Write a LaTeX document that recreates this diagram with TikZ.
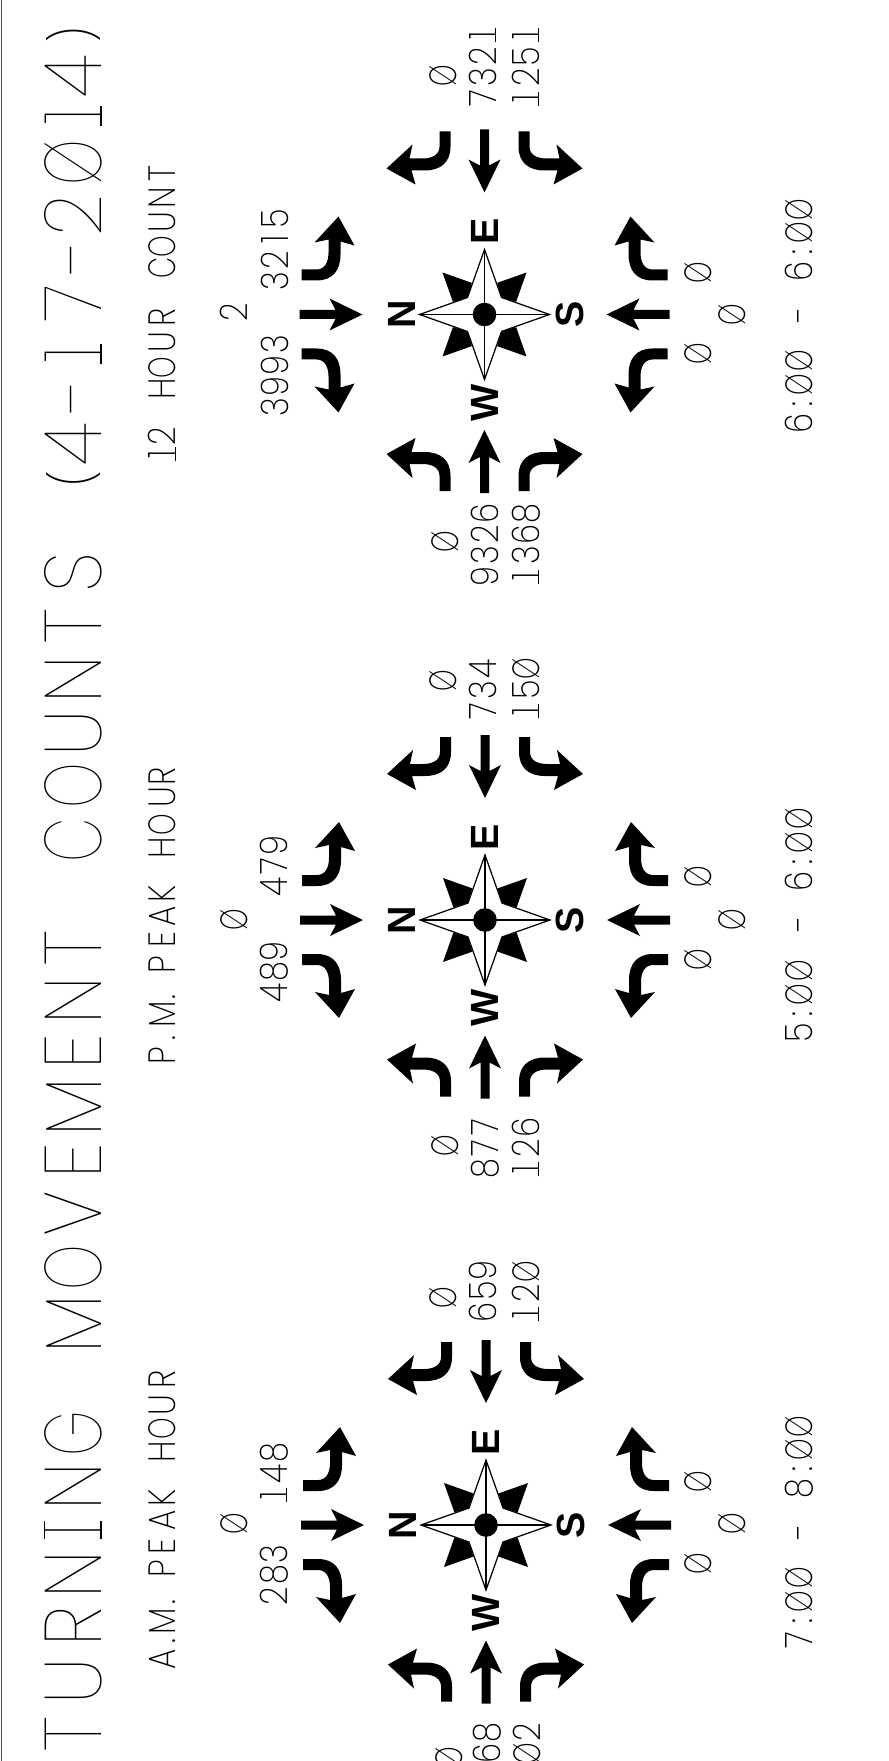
\documentclass[tikz,border=0pt]{standalone}
\usepackage{fontspec}
\usepackage{xcolor}
\newfontfamily\titlefont[FakeStretch=0.92]{Poppins Thin}
\newfontfamily\titleroundfont[FakeStretch=0.72]{Poppins Thin}
\newfontfamily\lightfont[FakeStretch=0.85]{Poppins ExtraLight}
\newfontfamily\lightroundfont[FakeStretch=0.72]{Poppins ExtraLight}
\newfontfamily\compassfont{Liberation Sans Bold}
\newlength\pxunit
\setlength\pxunit{0.01cm}
\newcommand{\spacedloop}[1]{\ifx#1\relax\else\makebox[\pitchw][c]{#1}\expandafter\spacedloop\fi}
\newcommand{\spaced}[2]{\def\pitchw{#1}\expandafter\spacedloop#2\relax}
% letters at given steps, centre to centre
\newcommand{\stepped}[1]{\foreach \ch/\adv in {#1}{\makebox[0pt][c]{\ch}\hspace{\adv\pxunit}}}
\newcommand{\tr}[1]{{\titleroundfont #1}}
\newcommand{\lr}[1]{{\lightroundfont #1}}
\newcommand{\slashz}{{\lightroundfont Ø}}
\newcommand{\titleparen}[1]{\raisebox{0.1cm}{\lightfont\fontsize{13.7}{14}\selectfont #1}}
\newcommand{\titleI}{\makebox[0pt][c]{\rule{0.18cm}{0.3pt}}\makebox[0pt][c]{\raisebox{0.56cm}{\rule{0.18cm}{0.3pt}}}\makebox[0pt][c]{I}}
\newcommand{\titleone}{\makebox[0pt][c]{\rule{0.2cm}{0.3pt}}\makebox[0pt][c]{1}}
\newcommand{\oneF}{\makebox[0pt][c]{\rule{0.14cm}{0.25pt}}\makebox[0pt][c]{1}}
\tikzset{
  titlelabel/.style={rotate=90,anchor=base west,inner sep=0pt,font=\titlefont\fontsize{22.8}{24}\selectfont},
  steplabel/.style={rotate=90,anchor=base west,inner sep=0pt,font=\lightfont\fontsize{10.8}{12}\selectfont},
  smalllabel/.style={rotate=90,anchor=base,inner sep=0pt,font=\lightfont\fontsize{10.8}{12}\selectfont},
  compasslabel/.style={rotate=90,inner sep=0pt,font=\compassfont\fontsize{11.2}{12}\selectfont},
  thinline/.style={line width=0.35pt}
}
% one approach: through arrow and the two turns
\newcommand{\turnarrow}{
  \fill (-183,-45) -- (-168,-45) .. controls (-160,-45) and (-156,-52) .. (-156,-62) -- (-156,-75)
    -- (-170,-72) -- (-146,-98) -- (-130,-69) -- (-144,-73) -- (-144,-60)
    .. controls (-144,-44) and (-152,-34) .. (-168,-34) -- (-183,-34) -- cycle;
}
\begin{document}
\begin{tikzpicture}[x=0.01cm,y=-0.01cm]
\useasboundingbox (0,0) rectangle (889,1761);
\draw[line width=0.4pt,black!70] (1.5,0) -- (1.5,1761);

\node[titlelabel] (title) at (101.5,1735) {\stepped{T/53.5,U/54,R/52.5,N/44,\titleI/44,N/52.5,\tr{G}/109.5,~/0,M/56.5,\tr{O}/54,V/53.5,E/53,M/55.5,E/51.5,N/52,T/108.5,~/0,\tr{C}/54,\tr{O}/53,U/53.5,N/53,T/53.5,S/94.5,~/0,\titleparen{(}/34,4/50.5,-/39.5,\titleone/51.5,7/47.5,-/40,2/52.5,\tr{Ø}/46.5,\titleone/40,4/42,\titleparen{)}/0}};
\node[steplabel] (hourtwelve) at (175.5,455) {\stepped{\oneF/18,2/48,~/0,H/20.5,\lr{O}/26,U/24,R/49.5,~/0,\lr{C}/21.5,\lr{O}/25,U/24,N/24.5,T/0}};
\node[steplabel] (hourpm) at (175.5,1056.5) {\stepped{P/17.5,./24,M/17.3,./32.7,~/0,P/25,E/22.5,A/23,K/46,~/0,H/23.5,\lr{O}/27.5,U/20.5,R/0}};
\node[steplabel] (houram) at (175.5,1660) {\stepped{A/18,./20,M/19,./34,~/0,P/22,E/25.5,A/23,K/46.5,~/0,H/23,\lr{O}/23,U/25.5,R/0}};
\node[steplabel] (timetwelve) at (812,424) {\stepped{6/19,:/19.5,\slashz/24,\slashz/46.5,~/0,-/42.5,~/0,6/19.5,:/19.5,\slashz/23.5,\slashz/0}};
\node[steplabel] (timepm) at (812,1033.5) {\stepped{5/19,:/19.5,\slashz/24,\slashz/46.5,~/0,-/42.5,~/0,6/19.5,:/19.5,\slashz/23.5,\slashz/0}};
\node[steplabel] (timeam) at (812,1641) {\stepped{7/19,:/19.5,\slashz/24,\slashz/46.5,~/0,-/42.5,~/0,8/19.5,:/19.5,\slashz/23.5,\slashz/0}};

% intersections
\foreach \cx/\cy/\tag in {484.5/314.5/a,485/920/b,486/1525/c}{
  \begin{scope}[shift={(\cx,\cy)}]
    \foreach \ang/\push in {0/0,90/6.5,180/0,270/0}{
      \begin{scope}[rotate=\ang,shift={(\push,0)}]
        \fill (-185,-4.5) -- (-149,-4.5) -- (-155,-16) -- (-122,0) -- (-155,16) -- (-149,4.5) -- (-185,4.5) -- cycle;
        \turnarrow
        \begin{scope}[yscale=-1]
          \turnarrow
        \end{scope}
      \end{scope}
      \fill[rotate=\ang] (-42,-42) -- (-12.6,-31.6) -- (-17,-17) -- (-31.6,-12.6) -- cycle;
    }
    \draw[thinline,fill=white] (-65,0) -- (-17,-17) -- (0,-65) -- (17,-17) -- (65,0) -- (17,17) -- (0,65) -- (-17,17) -- cycle;
    \draw[thinline] (-65,0) -- (65,0) (0,-65) -- (0,65);
    \fill (0,0) circle (11.8);
    \node[compasslabel] (north\tag) at (-83,0) {N};
    \node[compasslabel] (east\tag) at (0,-83) {E};
    \node[compasslabel] (south\tag) at (85,0) {S};
    \node[compasslabel] (west\tag) at (0,88) {W};
  \end{scope}
}

% counts
\foreach \x/\y/\txt [count=\i] in {
  456/76/\slashz,496/67/732\oneF,539/67/\oneF25\oneF,
  458/542/\slashz,498/545/9326,539/545/\oneF368,
  247/312/2,288/376/3993,288/250/3215,
  711/273/\slashz,745/315/\slashz,711/354/\slashz,
  456/681/\slashz,496/690/734,539/690/\oneF5\slashz,
  458/1146/\slashz,498/1148/877,539/1148/\oneF26,
  247/920/\slashz,287/972/489,287/866/479,
  711/877/\slashz,745/920/\slashz,711/960/\slashz,
  456/1298/\slashz,496/1291/659,539/1293/\oneF2\slashz,
  462/1758/\slashz,500/1743/68,540/1743/\slashz2,
  247/1524/\slashz,287/1575/283,287/1474/\oneF48,
  711/1482/\slashz,745/1524/\slashz,711/1564/\slashz}{
  \node[smalllabel] (count\i) at (\x,\y) {\spaced{0.21cm}{\txt}};
}
\end{tikzpicture}
\end{document}
